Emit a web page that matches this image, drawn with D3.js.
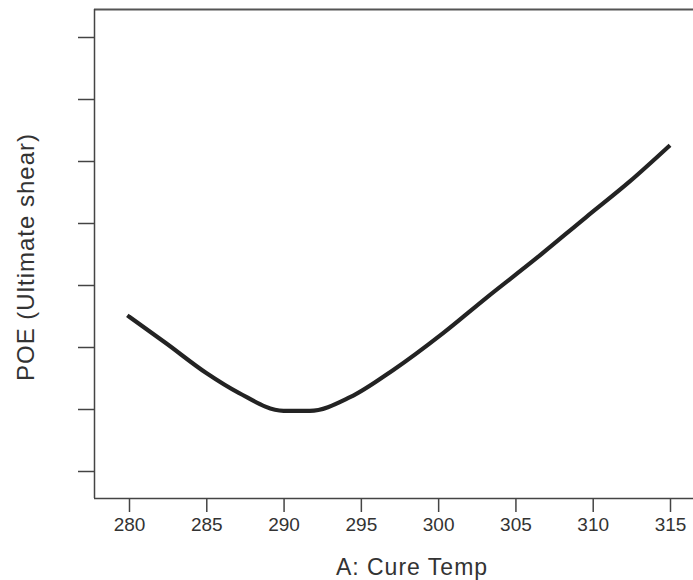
<!DOCTYPE html>
<html>
<head>
<meta charset="utf-8">
<script src="https://cdn.jsdelivr.net/npm/d3@7"></script>
<style>
body { margin: 0; background: #fff; }
text { font-family: "Liberation Sans", Arial, sans-serif; fill: #333; }
</style>
</head>
<body>
<script>
var width = 693, height = 580;

// curve (A: Cure Temp vs POE, unlabeled y units)
var temps = [280, 282.4, 285, 287.1, 290, 291.7, 294.3, 297.1, 300.3, 303.1, 306.4, 309.6, 312.4, 314.9];
var poe = [0.249, 0.206, 0.158, 0.126, 0.097, 0.097, 0.119, 0.163, 0.222, 0.279, 0.344, 0.410, 0.467, 0.523];
var xTicks = [280, 285, 290, 295, 300, 305, 310, 315];
var yTicks = [0, 0.1, 0.2, 0.3, 0.4, 0.5, 0.6, 0.7];

var plotLeft = 94, plotTop = 9, plotBottom = 498;

var xScale = d3.scaleLinear()
.domain([280, 315])
.range([129, 670]);

var yScale = d3.scaleLinear()
.domain([0, 0.7])
.range([471, 37]);

var svg = d3.select("body")
.append("svg")
.attr("width", width)
.attr("height", height);

//top border line
svg.append("line")
.attr("x1", plotLeft).attr("x2", width)
.attr("y1", plotTop + 0.5).attr("y2", plotTop + 0.5)
.attr("stroke", "#555").attr("stroke-width", 2);

//x axis
var xAxis = svg.append("g")
.attr("transform", "translate(0," + plotBottom + ")")
.call(d3.axisBottom(xScale).tickValues(xTicks).tickSize(14).tickPadding(6).tickSizeOuter(0));
xAxis.select(".domain").attr("d", "M" + plotLeft + ",0.5H" + width);

//y axis, ticks without labels
var yAxis = svg.append("g")
.attr("transform", "translate(" + plotLeft + ",0)")
.call(d3.axisLeft(yScale).tickValues(yTicks).tickSize(16).tickFormat("").tickSizeOuter(0));
yAxis.select(".domain").attr("d", "M0.5," + plotTop + "V" + plotBottom);

svg.selectAll(".domain, .tick line")
.attr("stroke", "#444")
.attr("stroke-width", 1.5);

xAxis.selectAll(".tick text")
.style("font-family", "'Liberation Sans', Arial, sans-serif")
.style("font-size", "19px")
.attr("fill", "#333");

//the curve
var line = d3.line()
.x(function(d, i) { return xScale(temps[i]) })
.y(function(d) { return yScale(d) })
.curve(d3.curveMonotoneX);

svg.append("path")
.datum(poe)
.attr("d", line)
.attr("fill", "none")
.attr("stroke", "#232323")
.attr("stroke-width", 4.2)
.attr("stroke-linecap", "square");

//axis titles
svg.append("text")
.attr("x", 412)
.attr("y", 575)
.attr("text-anchor", "middle")
.style("font-size", "23px")
.style("letter-spacing", "1px")
.text("A: Cure Temp");

svg.append("text")
.attr("transform", "translate(34,257) rotate(-90)")
.attr("text-anchor", "middle")
.style("font-size", "24px")
.style("letter-spacing", "1px")
.text("POE (Ultimate shear)");
</script>
</body>
</html>
